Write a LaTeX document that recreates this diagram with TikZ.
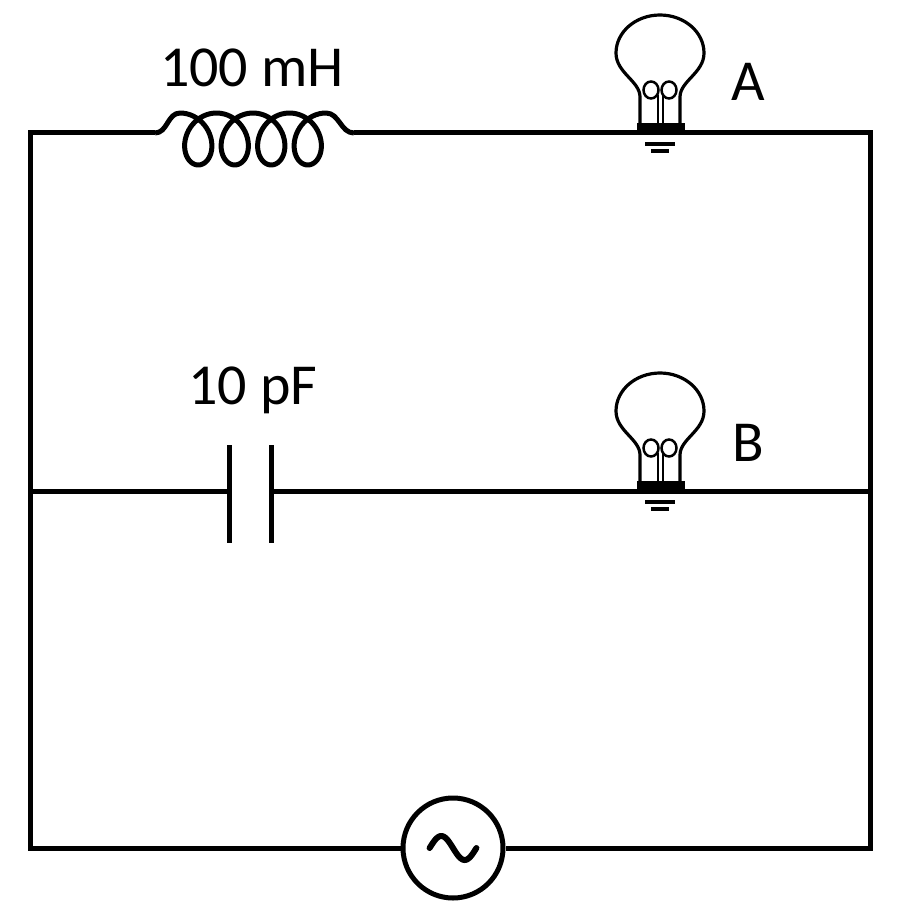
\documentclass[tikz,border=0pt]{standalone}
\usepackage{fontspec}
\setmainfont{Carlito}
\begin{document}
\begin{tikzpicture}[x=1pt,y=-1pt,
  wire/.style={line width=5pt},
  thin/.style={line width=3.2pt},
  lbl/.style={font=\fontsize{58}{66}\selectfont,inner sep=0pt}]
\useasboundingbox (0,0) rectangle (900,912);
\def\bulb#1#2{%
 \begin{scope}[shift={(#1,#2)}]
  \draw[thin,line join=round] (-20,-9)--(-20,-36) .. controls (-20,-52) and (-44,-60) .. (-44,-80)
     arc[start angle=180,end angle=360,x radius=44,y radius=38]
     .. controls (44,-60) and (20,-52) .. (20,-36) -- (20,-9);
  \fill (-23,-10) rectangle (25,1);
  \draw[thin] (-15,11)--(15,11);
  \draw[thin] (-9,18)--(9,18);
  \draw[line width=2pt] (-2,-9)--(-2,-38) (3,-9)--(3,-38);
  \draw[line width=2.5pt] (-9,-43) ellipse[x radius=7.5,y radius=8.5] (9,-43) ellipse[x radius=7.5,y radius=8.5];
 \end{scope}}
\coordinate (tl) at (30,133);
\coordinate (tr) at (870,133);
\coordinate (ml) at (30,491);
\coordinate (mr) at (870,491);
\coordinate (bl) at (30,848);
\coordinate (br) at (870,848);
\coordinate (l1) at (155,133);
\coordinate (l2) at (354,133);
\coordinate (c1) at (229,491);
\coordinate (c2) at (271,491);
\node[circle,draw,line width=5pt,minimum size=100pt,inner sep=0pt] (src) at (453,848) {};
% wires
\draw[wire] (l1)--(tl)--(bl)--(src.west);
\draw[wire] (src.east)--(br)--(tr)--(l2);
\draw[wire] (ml)--(c1) (c2)--(mr);
% inductor
\draw[wire,line join=round] (l1) to[out=0,in=180] (180,113)
  -- plot[domain=0:1440,samples=200,variable=\t] ({180+0.10139*\t+22*sin(\t)},{139-26*cos(\t)})
  to[out=0,in=180] (l2);
% capacitor
\draw[wire] (229,445)--(229,543) (271,445)--(271,543);
% source tilde
\draw[line width=6pt,line cap=round] plot[domain=-180:180,samples=40,variable=\t] ({453+0.13*\t},{848+12*sin(\t)});
\bulb{660}{133}
\bulb{660}{491}
\node[lbl] (tL) at (252,68) {100 mH};
\node[lbl] (tC) at (253,390) {10 pF};
\node[lbl] (tA) at (748,82) {A};
\node[lbl] (tB) at (748,443) {B};
\end{tikzpicture}
\end{document}
